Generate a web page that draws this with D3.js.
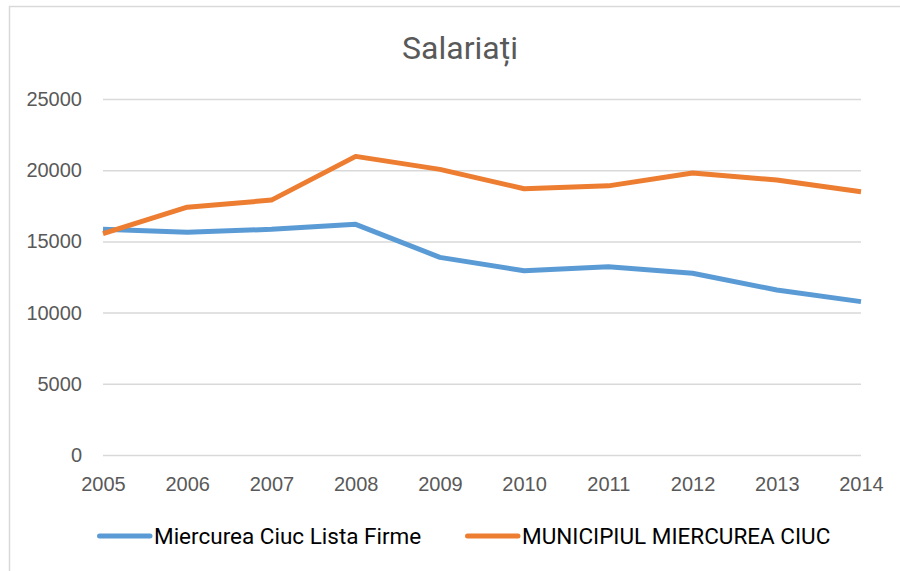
<!DOCTYPE html>
<html>
<head>
<meta charset="utf-8">
<script src="https://cdn.jsdelivr.net/npm/d3@7"></script>
<style>
  body { margin: 0; background: #fff; }
</style>
</head>
<body>
<div id="chart"></div>
<script>
// data
var years = ["2005","2006","2007","2008","2009","2010","2011","2012","2013","2014"];
var firme = [15850, 15650, 15850, 16200, 13880, 12940, 13220, 12760, 11590, 10770];
var municipiul = [15550, 17400, 17900, 20970, 20060, 18700, 18900, 19800, 19310, 18490];
var yTicks = [0, 5000, 10000, 15000, 20000, 25000];
var seriesNames = ["Miercurea Ciuc Lista Firme", "MUNICIPIUL MIERCUREA CIUC"];
var colors = ["#5B9BD5", "#ED7D31"];

var W = 900, H = 571;
var margin = {top: 99, right: 39, bottom: 116, left: 103},
    width = W - margin.left - margin.right,
    height = H - margin.top - margin.bottom;

var svg = d3.select("#chart").append("svg")
    .attr("width", W)
    .attr("height", H)
    .style("font-family", "Roboto, sans-serif");

// chart frame (only top + left edge visible in the crop)
svg.append("line").attr("x1", 9).attr("x2", W).attr("y1", 6.5).attr("y2", 6.5)
    .attr("stroke", "#D9D9D9").attr("stroke-width", 1.5);
svg.append("line").attr("x1", 9.5).attr("x2", 9.5).attr("y1", 6).attr("y2", H)
    .attr("stroke", "#D9D9D9").attr("stroke-width", 1.5);

var g = svg.append("g")
    .attr("transform", "translate(" + margin.left + "," + margin.top + ")");

var x = d3.scalePoint()
    .domain(years)
    .range([0, width]);
var y = d3.scaleLinear()
    .domain([0, 25000])
    .range([height, 0]);

// gridlines
g.append("g")
    .attr("class", "grid")
    .call(d3.axisLeft(y).tickValues(yTicks).tickSize(-width).tickFormat(""))
    .call(function(s) {
      s.select(".domain").remove();
      s.selectAll("line").attr("stroke", "#D9D9D9").attr("stroke-width", 1.5);
    });

// y axis labels
g.append("g")
    .attr("class", "y axis")
    .call(d3.axisLeft(y).tickValues(yTicks).tickSize(0).tickPadding(21).tickFormat(d3.format("d")))
    .call(function(s) {
      s.select(".domain").remove();
      s.selectAll("text").attr("fill", "#595959").style("font-size", "20px");
    });

// x axis labels
g.append("g")
    .attr("class", "x axis")
    .attr("transform", "translate(0," + height + ")")
    .call(d3.axisBottom(x).tickSize(0).tickPadding(22))
    .call(function(s) {
      s.select(".domain").remove();
      s.selectAll("text").attr("fill", "#595959").style("font-size", "20px");
    });

// lines
var line = d3.line()
    .x(function(d, i) { return x(years[i]); })
    .y(function(d) { return y(d); });

[firme, municipiul].forEach(function(vals, i) {
  g.append("path")
      .datum(vals)
      .attr("fill", "none")
      .attr("stroke", colors[i])
      .attr("stroke-width", 5)
      .attr("stroke-linejoin", "round")
      .attr("d", line);
});

// title
svg.append("text")
    .attr("class", "title")
    .attr("x", 460)
    .attr("y", 59)
    .attr("text-anchor", "middle")
    .attr("fill", "#595959")
    .style("font-size", "32px")
    .text("Salariați");

// legend
var legendX = [97, 465];
var legend = svg.append("g").attr("class", "legend");
seriesNames.forEach(function(name, i) {
  legend.append("line")
      .attr("x1", legendX[i] + 2.5).attr("x2", legendX[i] + 53)
      .attr("y1", 536).attr("y2", 536)
      .attr("stroke", colors[i])
      .attr("stroke-width", 5)
      .attr("stroke-linecap", "round");
  legend.append("text")
      .attr("x", legendX[i] + 57)
      .attr("y", 544)
      .attr("fill", "#000")
      .style("font-size", "22.5px")
      .text(name);
});
</script>
</body>
</html>
